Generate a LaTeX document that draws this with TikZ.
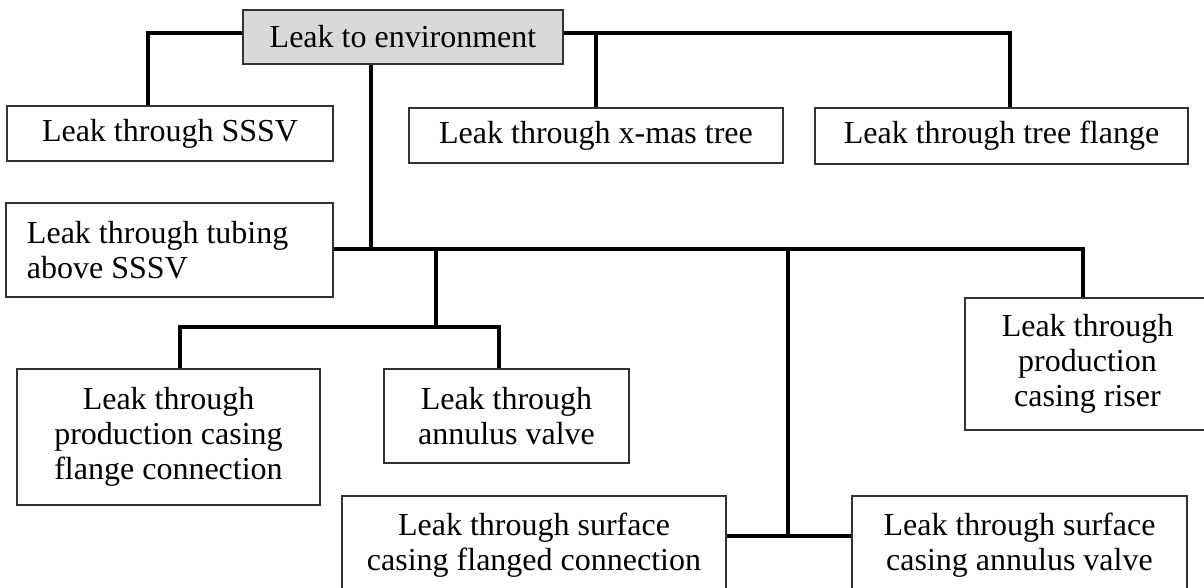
\documentclass[tikz,border=0pt]{standalone}
\usepackage{fontspec}
\setmainfont{Liberation Serif}
\begin{document}
\begin{tikzpicture}[x=1pt,y=-1pt]
	% Styles
	\tikzstyle{lien}=[-,line width=4pt]
	\tikzstyle{boite}=[draw=black!80,line width=1.3pt,fill=white,inner sep=0pt,align=center,font=\fontsize{32}{35}\selectfont]
	\tikzstyle{racine}=[boite,fill=black!15]
	% Cadre
	\useasboundingbox (0,0) rectangle (1204,588);
	% Noeuds
	\node[racine,minimum width=320,minimum height=54] (R) at (403,37) {Leak to environment};
	\node[boite,minimum width=326,minimum height=55] (Ra) at (170,133.5) {Leak through SSSV};
	\node[boite,minimum width=374,minimum height=55] (Rb) at (596,135.5) {Leak through x-mas tree};
	\node[boite,minimum width=373,minimum height=56] (Rc) at (1001.5,136) {Leak through tree flange};
	\node[boite,minimum width=327,minimum height=94,text width=285,align=flush left] (Rd) at (169.5,250) {Leak through tubing\\above SSSV};
	\node[boite,minimum width=303,minimum height=136] (Re) at (168.5,437) {Leak through\\production casing\\flange connection};
	\node[boite,minimum width=245,minimum height=94] (Rf) at (506.5,416) {Leak through\\annulus valve};
	\node[boite,minimum width=245,minimum height=132] (Rg) at (1087.5,364) {Leak through\\production\\casing riser};
	\node[boite,minimum width=384,minimum height=98] (Rh) at (534,545) {Leak through surface\\casing flanged connection};
	\node[boite,minimum width=335,minimum height=98] (Ri) at (1019.5,545) {Leak through surface\\casing annulus valve};
	% Jonctions
	\coordinate (Ja) at (148,33);
	\coordinate (Jc) at (1010,33);
	\coordinate (Jd) at (371,249);
	\coordinate (Je) at (180,327);
	\coordinate (Jf) at (499,327);
	\coordinate (Jm) at (436,249);
	\coordinate (Jh) at (788,536);
	% Arcs
	\draw[lien] (R.west |- Ja) -| (Ra.north -| Ja);
	\draw[lien] (R.east |- Jc) -| (Rc.north -| Jc);
	\draw[lien] (Rb.north) -- (Rb.north |- Jc);
	\draw[lien] (R.south -| Jd) -- (Jd);
	\draw[lien] (Rd.east |- Jd) -| (Rg.north -| 1083,0);
	\draw[lien] (Jm) -- (Jm |- Je);
	\draw[lien] (Re.north -| Je) -- (Je) -- (Jf) -- (Rf.north -| Jf);
	\draw[lien] (Jh |- Jd) -- (Jh);
	\draw[lien] (Rh.east |- Jh) -- (Ri.west |- Jh);
\end{tikzpicture}
\end{document}
